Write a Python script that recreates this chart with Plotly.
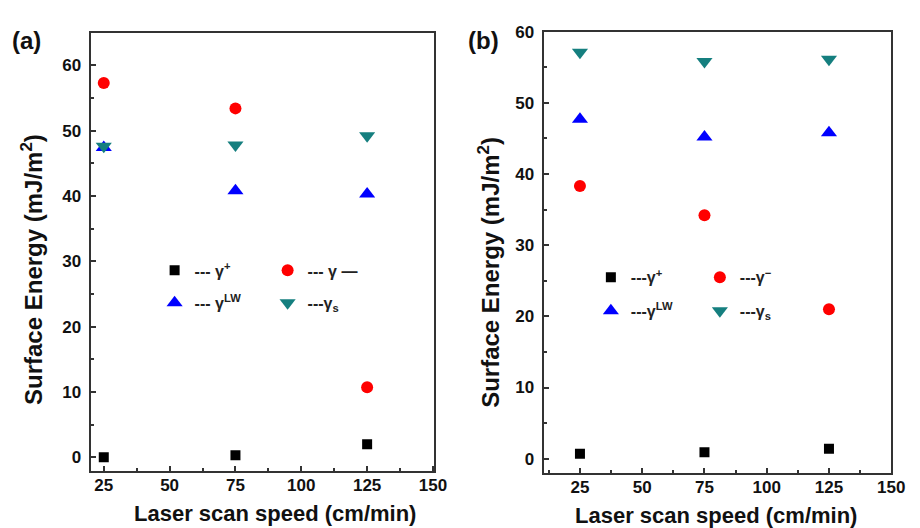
import plotly.graph_objects as go

speed = [25, 75, 125]
# panel (a)
a_gplus = [0.0, 0.3, 2.0]
a_gminus = [57.3, 53.4, 10.7]
a_glw = [47.4, 40.8, 40.3]
a_gs = [47.6, 47.8, 49.2]
# panel (b)
b_gplus = [0.7, 0.9, 1.4]
b_gminus = [38.3, 34.2, 21.0]
b_glw = [47.7, 45.2, 45.8]
b_gs = [57.1, 55.8, 56.1]

x_ticks = [25, 50, 75, 100, 125, 150]
y_ticks = [0, 10, 20, 30, 40, 50, 60]

a_names = ["--- γ<sup>+</sup>", "--- γ —", "--- γ<sup>LW</sup>", "---γ<sub>s</sub>"]
b_names = ["---γ<sup>+</sup>", "---γ<sup>−</sup>", "---γ<sup>LW</sup>", "---γ<sub>s</sub>"]
x_title = "Laser scan speed (cm/min)"
y_title = "Surface Energy (mJ/m<sup>2</sup>)"

FONT = "Liberation Sans"
styles = [
    dict(symbol="square", color="#000000", size=10),
    dict(symbol="circle", color="#ff0000", size=12),
    dict(symbol="triangle-up", color="#0000ff", size=14),
    dict(symbol="triangle-down", color="#157f7f", size=14),
]

fig = go.Figure()
a_series = [a_gplus, a_gminus, a_glw, a_gs]
b_series = [b_gplus, b_gminus, b_glw, b_gs]
a_leg = ["legend", "legend", "legend2", "legend2"]
b_leg = ["legend3", "legend3", "legend4", "legend4"]
for i in range(4):
    fig.add_trace(go.Scatter(x=speed, y=a_series[i], mode="markers", name=a_names[i],
                             marker=dict(symbol=styles[i]["symbol"], color=styles[i]["color"],
                                         size=styles[i]["size"]),
                             xaxis="x", yaxis="y", legend=a_leg[i]))
for i in range(4):
    fig.add_trace(go.Scatter(x=speed, y=b_series[i], mode="markers", name=b_names[i],
                             marker=dict(symbol=styles[i]["symbol"], color=styles[i]["color"],
                                         size=styles[i]["size"]),
                             xaxis="x2", yaxis="y2", legend=b_leg[i]))

W, H = 920, 528
tickfont = dict(family=FONT, size=17, color="#111", weight="bold")

def xax(domain, rng, anchor):
    return dict(domain=domain, range=rng, anchor=anchor, tickvals=x_ticks,
                ticks="inside", ticklen=5, tickwidth=1.5, tickcolor="#333",
                minor=dict(ticks="inside", dtick=12.5, tick0=0, ticklen=3, tickcolor="#333"),
                showline=True, linecolor="#333", linewidth=2, mirror=True,
                showgrid=False, zeroline=False, tickfont=tickfont, ticklabelstandoff=-2)

def yax(domain, rng, anchor):
    return dict(domain=domain, range=rng, anchor=anchor, tickvals=y_ticks,
                ticks="inside", ticklen=5, tickwidth=1.5, tickcolor="#333",
                minor=dict(ticks="inside", dtick=5, tick0=0, ticklen=3, tickcolor="#333"),
                showline=True, linecolor="#333", linewidth=2, mirror=True,
                showgrid=False, zeroline=False, tickfont=tickfont, ticklabelstandoff=4)

def leg(xpx, ypx, ew):
    return dict(x=xpx / W, y=1 - ypx / H, xanchor="left", yanchor="middle",
                orientation="h", entrywidth=ew, entrywidthmode="pixels",
                bgcolor="rgba(0,0,0,0)", font=dict(family=FONT, size=16, color="#222", weight="bold"),
                itemwidth=30, tracegroupgap=0)

fig.update_layout(
    width=W, height=H, margin=dict(l=0, r=0, t=0, b=0),
    paper_bgcolor="white", plot_bgcolor="white",
    xaxis=xax([92 / W, 441 / W], [20, 150.5], "y"),
    yaxis=yax([1 - 470 / H, 1 - 24 / H], [-2.1, 65], "x"),
    xaxis2=xax([552 / W, 905 / W], [10.4, 150], "y2"),
    yaxis2=yax([1 - 472 / H, 1 - 23 / H], [-2, 60], "x2"),
    legend=leg(157, 266, 68),
    legend2=leg(157, 299, 68),
    legend3=leg(600, 273, 64),
    legend4=leg(600, 307, 64),
    showlegend=True,
)

def ann(text, xpx, ypx, size, angle=0, anchor="center"):
    fig.add_annotation(text=text, x=xpx / W, y=1 - ypx / H, xref="paper", yref="paper",
                       xanchor=anchor, yanchor="middle", showarrow=False, textangle=angle,
                       font=dict(family=FONT, size=size, color="#111", weight="bold"))

ann("(a)", 10, 32, 24, anchor="left")
ann("(b)", 473, 32, 24, anchor="left")
ann(x_title, 279, 513, 22)
ann(x_title, 727, 515, 22)
ann(y_title, 33, 265, 24, angle=-90)
ann(y_title, 497, 268, 24, angle=-90)

fig.write_html("out.html")
